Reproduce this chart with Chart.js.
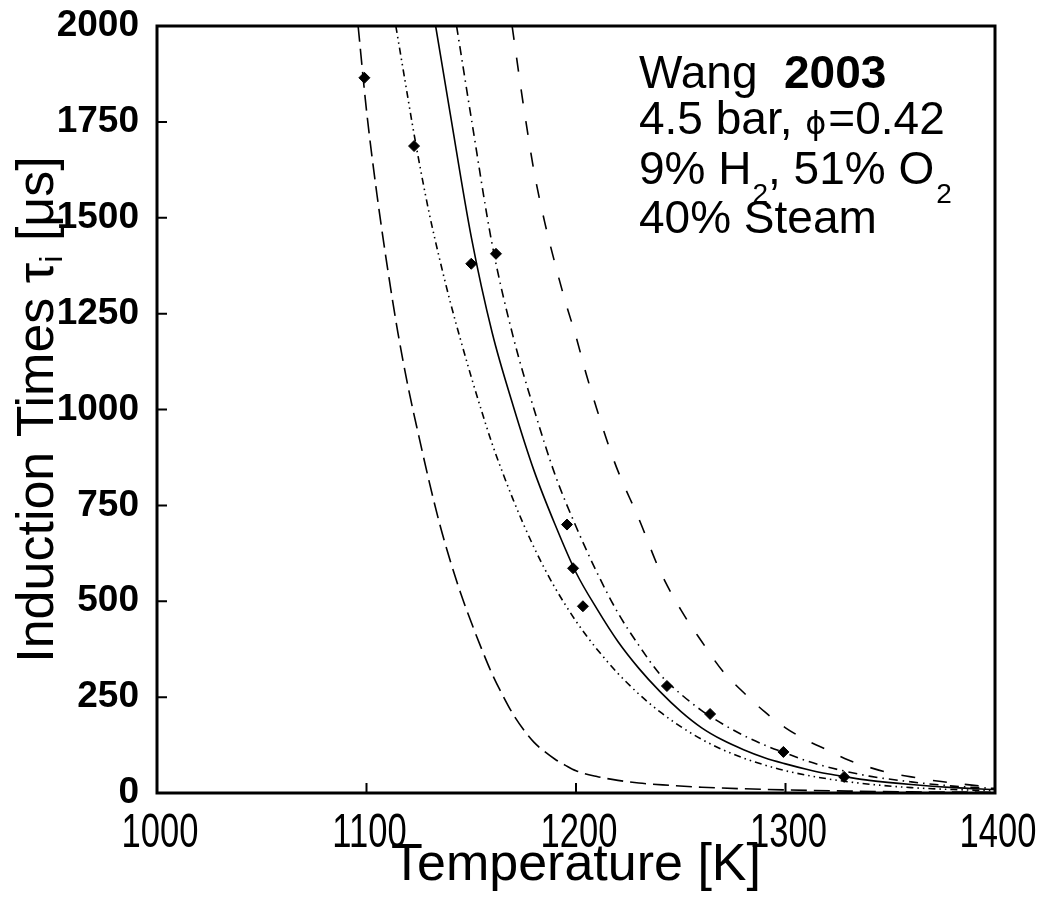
<!DOCTYPE html>
<html lang="en">
<head>
  <meta charset="UTF-8">
  <title>Induction Times - Wang 2003</title>
  <script src="https://cdn.jsdelivr.net/npm/chart.js@4.4.0/dist/chart.umd.min.js"></script>
  <style>
    body { margin: 0; background: #fff; }
    #chart { display: block; }
  </style>
</head>
<body>
  <canvas id="chart" width="1043" height="897"></canvas>
  <script>
    // Axis ranges / ticks
    const xMin = 1000, xMax = 1400, xStep = 100;
    const yMin = 0, yMax = 2000, yStep = 250;

    // Measured points (diamonds)
    const expT   = [1099, 1122.7, 1150, 1161.8, 1195.7, 1198.6, 1203.3, 1243.4, 1264, 1299, 1328];
    const expTau = [1865, 1687, 1380, 1406, 700, 586, 487, 279, 206, 107, 42];

    // Model curves
    const longDashT   = [1096, 1100, 1105, 1110, 1115, 1120, 1125, 1130, 1135, 1140, 1145, 1150, 1155, 1160, 1165, 1170, 1175, 1180, 1185, 1190, 1195, 1200, 1210, 1220, 1230, 1245, 1260, 1280, 1300, 1330, 1360, 1400];
    const longDashTau = [2000, 1780, 1560, 1370, 1200, 1055, 930, 810, 700, 605, 520, 445, 375, 310, 255, 205, 165, 132, 108, 88, 72, 58, 43, 33, 26, 20, 15, 11, 8, 5, 3, 2];

    const dashDotDotT   = [1114, 1118, 1122, 1126, 1130, 1135, 1140, 1145, 1150, 1155, 1160, 1165, 1170, 1175, 1180, 1185, 1190, 1195, 1200, 1205, 1210, 1220, 1230, 1240, 1250, 1260, 1270, 1280, 1290, 1300, 1320, 1340, 1360, 1380, 1400];
    const dashDotDotTau = [2000, 1870, 1740, 1620, 1510, 1390, 1280, 1180, 1085, 995, 910, 835, 765, 700, 640, 585, 535, 490, 448, 410, 375, 312, 258, 212, 173, 140, 113, 91, 73, 58, 37, 23, 14, 9, 6];

    const solidT   = [1133, 1140, 1150, 1160, 1170, 1180, 1190, 1200, 1210, 1220, 1230, 1240, 1250, 1260, 1270, 1280, 1290, 1300, 1310, 1320, 1330, 1340, 1360, 1380, 1400];
    const solidTau = [2000, 1770, 1450, 1200, 1010, 840, 700, 575, 480, 395, 325, 265, 213, 170, 138, 113, 92, 76, 62, 50, 41, 33, 22, 14, 9];

    const dashDotT   = [1143, 1150, 1160, 1170, 1180, 1190, 1200, 1210, 1220, 1230, 1240, 1250, 1260, 1270, 1280, 1290, 1300, 1310, 1320, 1330, 1340, 1360, 1380, 1400];
    const dashDotTau = [2000, 1760, 1430, 1190, 1000, 830, 695, 575, 470, 385, 310, 258, 215, 180, 150, 125, 104, 84, 68, 55, 44, 29, 18, 12];

    const dashT   = [1169.5, 1175, 1180, 1185, 1190, 1195, 1200, 1205, 1210, 1215, 1220, 1230, 1240, 1250, 1260, 1270, 1280, 1290, 1300, 1310, 1320, 1330, 1340, 1350, 1360, 1370, 1380, 1390, 1400];
    const dashTau = [2000, 1790, 1620, 1490, 1380, 1280, 1190, 1090, 1000, 915, 840, 715, 580, 478, 395, 318, 262, 212, 170, 138, 112, 86, 67, 52, 42, 33, 26, 20, 16];

    const pts = (xs, ys) => xs.map((x, i) => ({ x: x, y: ys[i] }));

    const curve = (xs, ys, dash) => ({
      data: pts(xs, ys),
      showLine: true,
      borderColor: '#000',
      borderWidth: 1.6,
      borderDash: dash,
      pointRadius: 0,
      cubicInterpolationMode: 'monotone',
      order: 2
    });

    // Frame, inward ticks, x tick labels, text block and y title
    const decor = {
      id: 'decor',
      afterDraw(chart) {
        const ctx = chart.ctx;
        const a = chart.chartArea;
        const xs = chart.scales.x, ys = chart.scales.y;
        ctx.save();
        ctx.strokeStyle = '#000';
        ctx.lineWidth = 3;
        ctx.strokeRect(a.left, a.top, a.right - a.left, a.bottom - a.top);

        ctx.lineWidth = 2;
        ctx.beginPath();
        for (let v = yMin + yStep; v < yMax; v += yStep) {
          const y = ys.getPixelForValue(v);
          ctx.moveTo(a.left, y); ctx.lineTo(a.left + 10, y);
        }
        for (let v = xMin + xStep; v < xMax; v += xStep) {
          const x = xs.getPixelForValue(v);
          ctx.moveTo(x, a.bottom); ctx.lineTo(x, a.bottom - 10);
        }
        ctx.stroke();

        ctx.fillStyle = '#000';

        // x tick labels: narrow, tall digits
        ctx.textAlign = 'center';
        ctx.textBaseline = 'alphabetic';
        ctx.font = '48px "Liberation Sans", Arial, sans-serif';
        xs.ticks.forEach(t => {
          const px = xs.getPixelForValue(t.value);
          ctx.save();
          ctx.translate(px + 3, a.bottom + 54);
          ctx.scale(0.72, 1);
          ctx.fillText(String(t.value), 0, 0);
          ctx.restore();
        });
        ctx.textAlign = 'left';

        // text block
        const big = '46px "Liberation Sans", Arial, sans-serif';
        const sub = '28px "Liberation Sans", Arial, sans-serif';
        const write = (str, x, y, font) => {
          ctx.font = font;
          ctx.fillText(str, x, y);
          return x + ctx.measureText(str).width;
        };
        const x0 = 639;
        write('Wang', x0, 88, big);
        write('2003', 784, 88, 'bold 46px "Liberation Sans", Arial, sans-serif');

        let x = write('4.5 bar, ', x0, 134, big);
        x = write('\u03d5', x, 134, '32px "DejaVu Sans", sans-serif');
        write('=0.42', x + 2, 134, big);

        x = write('9% H', x0, 184, big);
        x = write('2', x + 1, 203, sub);
        x = write(', 51% O', x, 184, big);
        write('2', x + 2, 203, sub);

        write('40% Steam', x0, 233, big);

        // y axis title, rotated, with subscript
        const tf = '52px "Liberation Sans", Arial, sans-serif';
        const sf = '32px "Liberation Sans", Arial, sans-serif';
        ctx.font = tf;
        const p1 = 'Induction Times \u03c4', p3 = ' [\u03bcs]';
        const w1 = ctx.measureText(p1).width, w3 = ctx.measureText(p3).width;
        ctx.font = sf;
        const w2 = ctx.measureText('i').width;
        const total = w1 + w2 + w3;
        const cy = (a.top + a.bottom) / 2;
        ctx.translate(53, cy + total / 2);
        ctx.rotate(-Math.PI / 2);
        ctx.font = tf; ctx.fillText(p1, 0, 0);
        ctx.font = sf; ctx.fillText('i', w1, 9);
        ctx.font = tf; ctx.fillText(p3, w1 + w2, 0);
        ctx.restore();
      }
    };

    new Chart(document.getElementById('chart'), {
      type: 'scatter',
      data: {
        datasets: [
          {
            data: pts(expT, expTau),
            pointStyle: 'rectRot',
            pointRadius: 5.5,
            backgroundColor: '#000',
            borderColor: '#000',
            borderWidth: 1,
            order: 1
          },
          curve(longDashT, longDashTau, [16, 7]),
          curve(dashDotDotT, dashDotDotTau, [7, 4, 1.5, 4, 1.5, 4]),
          curve(solidT, solidTau, []),
          curve(dashDotT, dashDotTau, [9, 5, 1.5, 5]),
          curve(dashT, dashTau, [14, 18])
        ]
      },
      options: {
        responsive: false,
        devicePixelRatio: 1,
        animation: false,
        layout: { padding: { top: 26, right: 48, left: 0, bottom: 0 } },
        plugins: { legend: { display: false }, tooltip: { enabled: false } },
        scales: {
          x: {
            type: 'linear', min: xMin, max: xMax,
            grid: { display: false }, border: { display: false },
            ticks: {
              stepSize: xStep, color: 'rgba(0,0,0,0)', padding: 6, maxRotation: 0,
              font: { family: '"Liberation Sans", Arial, sans-serif', size: 30 },
              callback: v => String(v)
            },
            title: {
              display: true, text: 'Temperature [K]', color: '#000',
              font: { family: '"Liberation Sans", Arial, sans-serif', size: 52 },
              padding: { top: 0, bottom: 0 }
            },
            afterFit: s => { s.height = 104; }
          },
          y: {
            min: yMin, max: yMax,
            grid: { display: false }, border: { display: false },
            ticks: {
              stepSize: yStep, color: '#000', padding: 10,
              font: { family: '"Liberation Sans", Arial, sans-serif', size: 37, weight: 'bold', lineHeight: 0.6 },
              callback: v => String(v)
            },
            afterFit: s => { s.width = 157; }
          }
        }
      },
      plugins: [decor]
    });
  </script>
</body>
</html>
